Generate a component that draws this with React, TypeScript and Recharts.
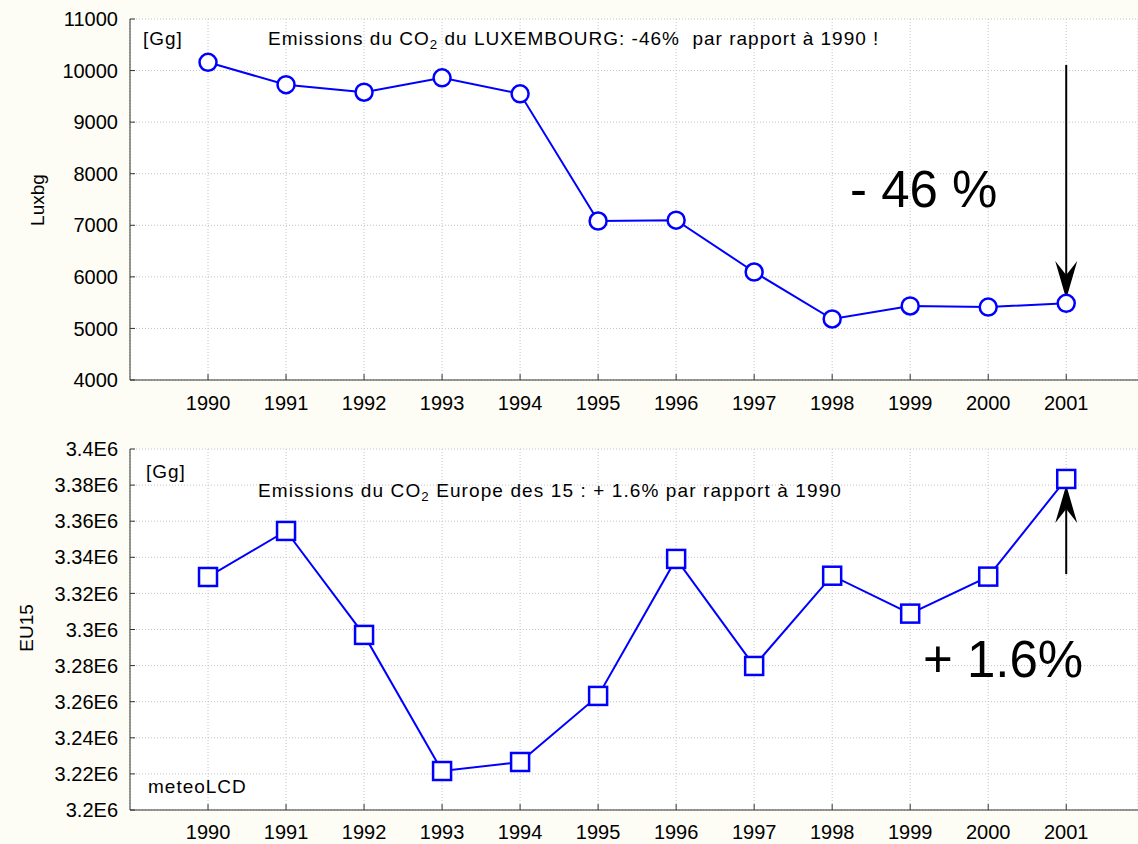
import React from 'react';
import { LineChart, Line, XAxis, YAxis, CartesianGrid, ReferenceLine } from 'recharts';

const years = [1990, 1991, 1992, 1993, 1994, 1995, 1996, 1997, 1998, 1999, 2000, 2001];
const luxValues = [10160, 9726, 9580, 9860, 9550, 7083, 7100, 6094, 5183, 5435, 5415, 5487];
const eu15Values = [3329100, 3354600, 3297000, 3221600, 3226600, 3263200, 3339100, 3279800, 3329800, 3308800, 3329300, 3383400];
const luxTicks = [4000, 5000, 6000, 7000, 8000, 9000, 10000, 11000];
const eu15Ticks = [3200000, 3220000, 3240000, 3260000, 3280000, 3300000, 3320000, 3340000, 3360000, 3380000, 3400000];

// annotation arrows, in data units
const luxArrow = { year: 2001, from: 10108, to: 5570 };
const eu15Arrow = { year: 2001, from: 3330700, to: 3380000 };

const luxData = years.map((year, i) => ({ year, value: luxValues[i] }));
const eu15Data = years.map((year, i) => ({ year, value: eu15Values[i] }));

const FONT = '"Liberation Sans", Arial, sans-serif';
const tickStyle = { fill: '#000', fontSize: 20, fontFamily: FONT };
const axisColor = '#333';
const BLUE = '#0000ff';

const fmtE6 = (v: number) => `${parseFloat((v / 1e6).toFixed(2))}E6`;

const arrowShape = (props: any) => {
  const { x1, y1, x2, y2 } = props;
  const dir = y2 > y1 ? 1 : -1;
  const len = 38;
  const half = 11;
  const notch = 24;
  return (
    <g>
      <line x1={x1} y1={y1} x2={x2} y2={y2 - dir * notch} stroke="#000" strokeWidth={2} />
      <polygon
        points={`${x2},${y2} ${x2 - half},${y2 - dir * len} ${x2},${y2 - dir * notch} ${x2 + half},${y2 - dir * len}`}
        fill="#000"
      />
    </g>
  );
};

const squareDot = (props: any) => {
  const { cx, cy, index } = props;
  return (
    <rect key={`sq-${index}`} x={cx - 9} y={cy - 9} width={18} height={18} fill="#fff" stroke={BLUE} strokeWidth={2.5} />
  );
};

const textAt = (left: number, top: number, size: number, content: React.ReactNode, spacing = 0) => (
  <div
    style={{
      position: 'absolute',
      left,
      top,
      fontSize: size,
      lineHeight: 1,
      whiteSpace: 'nowrap',
      color: '#000',
      letterSpacing: spacing,
    }}
  >
    {content}
  </div>
);

const sub2 = <sub style={{ fontSize: '0.7em', verticalAlign: '-0.3em' }}>2</sub>;

export default function App() {
  return (
    <div
      style={{
        position: 'absolute',
        left: 0,
        top: 0,
        width: 1138,
        height: 844,
        background: '#fdfdf5',
        fontFamily: FONT,
        overflow: 'hidden',
      }}
    >
      <div style={{ position: 'absolute', left: 0, top: 0 }}>
        <LineChart width={1138} height={420} data={luxData} margin={{ top: 19, right: 0, left: 0, bottom: 0 }}>
          <CartesianGrid stroke="#c4c4c4" strokeDasharray="1 2" fill="#fff" />
          <XAxis
            dataKey="year"
            type="number"
            domain={[1989, 2001.92]}
            ticks={years}
            allowDataOverflow
            height={40}
            tickSize={-6}
            tickMargin={22}
            tick={tickStyle}
            stroke={axisColor}
          />
          <XAxis
            xAxisId="top"
            dataKey="year"
            type="number"
            orientation="top"
            domain={[1989, 2001.92]}
            ticks={years}
            allowDataOverflow
            height={0}
            tickSize={-6}
            tick={false}
            stroke={axisColor}
          />
          <YAxis
            domain={[4000, 11000]}
            ticks={luxTicks}
            width={130}
            tickSize={-5}
            tickMargin={17}
            tick={tickStyle}
            stroke={axisColor}
            interval={0}
          />
          <Line
            dataKey="value"
            stroke={BLUE}
            strokeWidth={2}
            dot={{ r: 8.5, fill: '#fff', stroke: BLUE, strokeWidth: 2.5 }}
            isAnimationActive={false}
          />
          <ReferenceLine
            segment={[
              { x: luxArrow.year, y: luxArrow.from },
              { x: luxArrow.year, y: luxArrow.to },
            ]}
            shape={arrowShape}
          />
        </LineChart>
      </div>

      <div style={{ position: 'absolute', left: 0, top: 420 }}>
        <LineChart width={1138} height={424} data={eu15Data} margin={{ top: 29, right: 0, left: 0, bottom: 0 }}>
          <CartesianGrid stroke="#c4c4c4" strokeDasharray="1 2" fill="#fff" />
          <XAxis
            dataKey="year"
            type="number"
            domain={[1989, 2001.92]}
            ticks={years}
            allowDataOverflow
            height={34}
            tickSize={-6}
            tickMargin={21}
            tick={tickStyle}
            stroke={axisColor}
          />
          <XAxis
            xAxisId="top"
            dataKey="year"
            type="number"
            orientation="top"
            domain={[1989, 2001.92]}
            ticks={years}
            allowDataOverflow
            height={0}
            tickSize={-6}
            tick={false}
            stroke={axisColor}
          />
          <YAxis
            domain={[3200000, 3400000]}
            ticks={eu15Ticks}
            width={130}
            tickSize={-5}
            tickMargin={17}
            tick={tickStyle}
            tickFormatter={fmtE6}
            stroke={axisColor}
            interval={0}
          />
          <Line dataKey="value" stroke={BLUE} strokeWidth={2} dot={squareDot} isAnimationActive={false} />
          <ReferenceLine
            segment={[
              { x: eu15Arrow.year, y: eu15Arrow.from },
              { x: eu15Arrow.year, y: eu15Arrow.to },
            ]}
            shape={arrowShape}
          />
        </LineChart>
      </div>

      {/* axis titles */}
      <div
        style={{
          position: 'absolute',
          left: 38,
          top: 200,
          fontSize: 19,
          transform: 'translate(-50%, -50%) rotate(-90deg)',
          whiteSpace: 'nowrap',
        }}
      >
        Luxbg
      </div>
      <div
        style={{
          position: 'absolute',
          left: 27,
          top: 628,
          fontSize: 19,
          transform: 'translate(-50%, -50%) rotate(-90deg)',
          whiteSpace: 'nowrap',
        }}
      >
        EU15
      </div>

      {/* annotations */}
      {textAt(143, 29, 19, '[Gg]', 1)}
      {textAt(268, 29, 19, <>Emissions du CO{sub2} du LUXEMBOURG: -46%&nbsp;&nbsp;par rapport à 1990 !</>, 1)}
      {textAt(850, 164, 51, '- 46 %')}
      {textAt(146, 462, 19, '[Gg]', 1)}
      {textAt(258, 481, 19, <>Emissions du CO{sub2} Europe des 15 : + 1.6% par rapport à 1990</>, 1.1)}
      {textAt(923, 634, 51, '+ 1.6%')}
      {textAt(148, 777, 19, 'meteoLCD', 1)}
    </div>
  );
}
